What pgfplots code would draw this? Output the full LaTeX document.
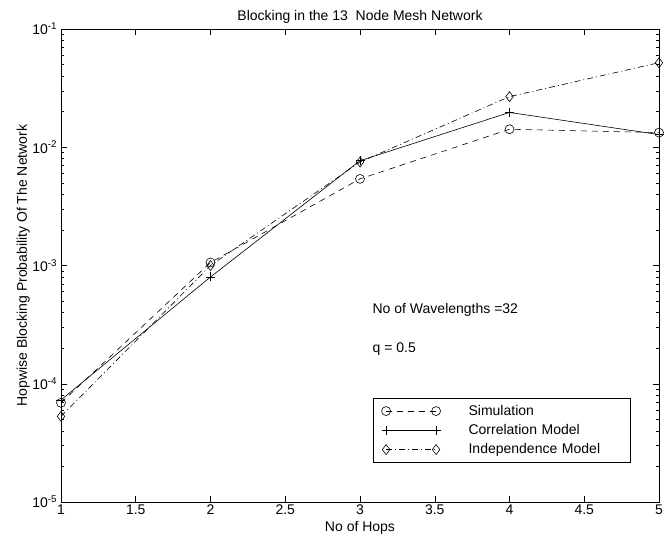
\documentclass[border=0pt]{standalone}
\usepackage{pgfplots}
\pgfplotsset{compat=1.18}
\usepackage{fontspec}
\setmainfont{Liberation Sans}
\begin{document}
\fontsize{14}{16}\selectfont
\begin{tikzpicture}[x=1pt,y=1pt]
\useasboundingbox (-61,-35) rectangle (609,502);
\begin{axis}[
  at={(0,0)}, anchor=south west,
  scale only axis, width=598pt, height=473pt,
  ymode=log,
  xmin=1, xmax=5, ymin=1e-5, ymax=1e-1,
  xtick={1,1.5,2,2.5,3,3.5,4,4.5,5},
  xticklabels={1,1.5,2,2.5,3,3.5,4,4.5,5},
  ytick={1e-5,1e-4,1e-3,1e-2,1e-1},
  yticklabels={10\textsuperscript{-5},10\textsuperscript{-4},10\textsuperscript{-3},10\textsuperscript{-2},10\textsuperscript{-1}},
  tick align=inside,
  major tick length=6pt, minor tick length=3pt,
  every tick/.style={black, line width=0.5pt},
  axis line style={line width=0.6pt},
  tick label style={font=\fontsize{14}{16}\selectfont},
  xticklabel style={yshift=2pt},
  yticklabel style={xshift=1pt},
  xlabel={No of Hops},
  ylabel={Hopwise Blocking Probability Of The Network},
  xlabel style={font=\fontsize{14}{16}\selectfont, yshift=3pt},
  ylabel style={font=\fontsize{14}{16}\selectfont, yshift=-7pt},
  title={Blocking in the 13\ \ Node Mesh Network},
  title style={font=\fontsize{14}{16}\selectfont, yshift=-5pt},
  legend style={at={(0.953,0.0825)}, anchor=south east, draw=black, line width=0.6pt,
    font=\fontsize{14}{16}\selectfont, inner xsep=8pt, inner ysep=5pt, row sep=3pt,
    text width=178pt},
  legend cell align=left,
  legend image code/.code={\draw[#1] plot coordinates {(0pt,0pt) (50pt,0pt)};},
  every axis plot/.append style={line width=0.6pt, black},
]
\addplot[dashed, dash pattern=on 6pt off 5pt, mark=o, mark size=4.5pt, mark options={solid}] coordinates {
  (1,6.9e-5) (2,1.06e-3) (3,5.4e-3) (4,1.42e-2) (5,1.33e-2)};
\addlegendentry{\hspace{26pt}Simulation}
\addplot[solid, mark=+, mark size=4.5pt] coordinates {
  (1,7.3e-5) (2,8.0e-4) (3,7.7e-3) (4,1.97e-2) (5,1.28e-2)};
\addlegendentry{\hspace{26pt}Correlation Model}
\addplot[dash pattern=on 6pt off 3pt on 1pt off 3pt, mark=diamond, mark size=5pt, mark options={solid}] coordinates {
  (1,5.3e-5) (2,1.0e-3) (3,7.5e-3) (4,2.68e-2) (5,5.19e-2)};
\addlegendentry{\hspace{26pt}Independence Model}
\node[anchor=west] at (rel axis cs:0.513,0.406) {No of Wavelengths =32};
\node[anchor=west] at (rel axis cs:0.513,0.323) {q = 0.5};
\end{axis}
\end{tikzpicture}
\end{document}
